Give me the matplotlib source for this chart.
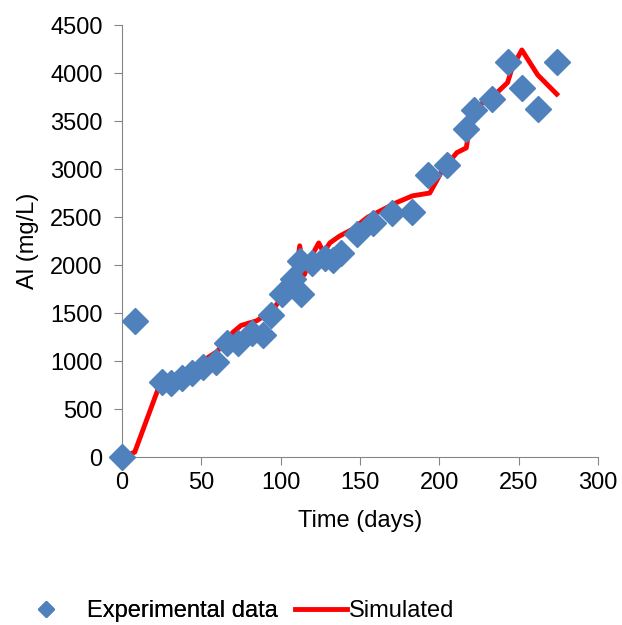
import matplotlib
matplotlib.use('Agg')
import matplotlib.pyplot as plt

plt.rcParams['font.family'] = ['Liberation Sans', 'DejaVu Sans']

# Experimental data (days, mg/L)
exp_days = [0, 8, 25, 31, 38, 44, 51, 59, 66, 73, 82, 89, 94, 101, 108, 112, 113,
            120, 128, 133, 138, 148, 158, 170, 183, 193, 205, 217, 222, 233, 243,
            252, 262, 274]
exp_al = [0, 1420, 780, 770, 820, 870, 940, 990, 1190, 1190, 1290, 1270, 1480,
          1700, 1850, 2040, 1700, 2020, 2070, 2050, 2120, 2320, 2440, 2540, 2550,
          2940, 3040, 3420, 3610, 3730, 4110, 3840, 3630, 4110]

# Simulated curve
sim_days = [0, 8, 23, 30, 40, 50, 60, 70, 75, 85, 95, 100, 105, 110, 112, 115,
            118, 124, 127, 131, 137, 145, 155, 160, 173, 183, 194, 202, 211, 217,
            219, 224, 236, 243, 246, 252, 262, 274]
sim_al = [0, 50, 720, 820, 880, 990, 1100, 1300, 1370, 1420, 1530, 1650, 1800,
          1950, 2200, 1900, 2050, 2230, 2130, 2230, 2300, 2370, 2500, 2540, 2650,
          2720, 2750, 2990, 3170, 3220, 3440, 3650, 3790, 3900, 4060, 4240, 3980,
          3780]

fs = 17
fig = plt.figure(figsize=(6.22, 6.25), dpi=100)
ax = fig.add_axes([122/622, 1 - 457/625, (598-122)/622, (457-25)/625])

sim_line, = ax.plot(sim_days, sim_al, color='#ff0000', lw=3.5, zorder=2)
exp_pts, = ax.plot(exp_days, exp_al, 'D', color='#4f81bd', ms=13, zorder=3,
                   clip_on=False)

ax.set_xlim(0, 300)
ax.set_ylim(0, 4500)
ax.set_xticks(range(0, 301, 50))
ax.set_yticks(range(0, 4501, 500))
ax.tick_params(labelsize=fs, length=6, color='#868686', direction='out')
ax.tick_params(axis='y', pad=8)
ax.tick_params(axis='x', pad=5)
for s in ['top', 'right']:
    ax.spines[s].set_visible(False)
for s in ['left', 'bottom']:
    ax.spines[s].set_color('#868686')
ax.set_xlabel('Time (days)', fontsize=fs, labelpad=11)
ax.set_ylabel('Al (mg/L)', fontsize=fs, labelpad=8)

# legend along the bottom edge (two separate entries, like Excel)
leg1 = fig.legend([exp_pts], ['Experimental data'], loc='center left',
                  bbox_to_anchor=(22/622, 0.022), frameon=False, fontsize=fs,
                  handlelength=2, handletextpad=0.75, borderpad=0,
                  borderaxespad=0, markerscale=0.6)
fig.add_artist(leg1)
fig.legend([sim_line], ['Simulated'], loc='center left',
           bbox_to_anchor=(295/622, 0.022), frameon=False, fontsize=fs,
           handlelength=2.2, handletextpad=0.1, borderpad=0, borderaxespad=0)

fig.savefig('out.png', dpi=100)
